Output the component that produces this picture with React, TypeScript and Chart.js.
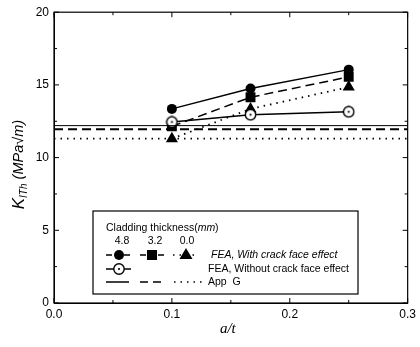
import React, { useEffect, useRef } from "react";
import { Chart, registerables } from "chart.js";
Chart.register(...registerables);

// ---- data ----
const aOverT = [0.1, 0.1667, 0.25];
const kWith48 = [13.35, 14.75, 16.05];
const kWith32 = [12.15, 14.15, 15.55];
const kWith00 = [11.3, 13.35, 14.85];
const kWithout = [12.45, 12.95, 13.15];
const appGx = [0, 0.3];
const appG48 = [12.2, 12.2];
const appG32 = [11.95, 11.95];
const appG00 = [11.3, 11.3];
const xTickValues = [0, 0.1, 0.2, 0.3];
const yTickValues = [0, 5, 10, 15, 20];
const cladLabels = ["4.8", "3.2", "0.0"];

const FONT = "'Liberation Sans', Arial, sans-serif";

function pts(xs: number[], ys: number[]) {
  return xs.map((x, i) => ({ x, y: ys[i] }));
}

function makeOpenCircle(): HTMLCanvasElement {
  const c = document.createElement("canvas");
  c.width = 13;
  c.height = 13;
  const g = c.getContext("2d")!;
  g.fillStyle = "#fff";
  g.strokeStyle = "#000";
  g.lineWidth = 1.4;
  g.beginPath();
  g.arc(6.5, 6.5, 5.2, 0, Math.PI * 2);
  g.fill();
  g.stroke();
  g.fillStyle = "#000";
  g.beginPath();
  g.arc(6.5, 6.5, 1.1, 0, Math.PI * 2);
  g.fill();
  return c;
}

function drawMarker(ctx: CanvasRenderingContext2D, kind: string, x: number, y: number) {
  ctx.save();
  ctx.fillStyle = "#000";
  ctx.strokeStyle = "#000";
  ctx.setLineDash([]);
  if (kind === "circle") {
    ctx.beginPath();
    ctx.arc(x, y, 5, 0, Math.PI * 2);
    ctx.fill();
  } else if (kind === "rect") {
    ctx.fillRect(x - 5, y - 5, 10, 10);
  } else if (kind === "triangle") {
    ctx.beginPath();
    ctx.moveTo(x, y - 6);
    ctx.lineTo(x + 6.5, y + 5);
    ctx.lineTo(x - 6.5, y + 5);
    ctx.closePath();
    ctx.fill();
  } else if (kind === "open") {
    ctx.fillStyle = "#fff";
    ctx.lineWidth = 1.4;
    ctx.beginPath();
    ctx.arc(x, y, 5.2, 0, Math.PI * 2);
    ctx.fill();
    ctx.stroke();
    ctx.fillStyle = "#000";
    ctx.beginPath();
    ctx.arc(x, y, 1.1, 0, Math.PI * 2);
    ctx.fill();
  }
  ctx.restore();
}

function seg(ctx: CanvasRenderingContext2D, x1: number, x2: number, y: number, dash: number[]) {
  ctx.save();
  ctx.strokeStyle = "#000";
  ctx.lineWidth = 1.5;
  ctx.setLineDash(dash);
  ctx.beginPath();
  ctx.moveTo(x1, y);
  ctx.lineTo(x2, y);
  ctx.stroke();
  ctx.restore();
}

const framePlugin = {
  id: "frameTicks",
  afterDraw(chart: any) {
    const ctx: CanvasRenderingContext2D = chart.ctx;
    const { left, right, top, bottom } = chart.chartArea;
    const xs = chart.scales.x;
    const ys = chart.scales.y;
    ctx.save();
    ctx.strokeStyle = "#000";
    ctx.lineWidth = 1.2;
    ctx.setLineDash([]);
    ctx.strokeRect(left, top, right - left, bottom - top);
    ctx.lineWidth = 1;
    // inward ticks
    for (let i = 0; i < xTickValues.length; i++) {
      const v = xTickValues[i];
      const px = xs.getPixelForValue(v);
      ctx.beginPath();
      ctx.moveTo(px, bottom); ctx.lineTo(px, bottom - 5);
      ctx.moveTo(px, top); ctx.lineTo(px, top + 5);
      ctx.stroke();
      if (i < xTickValues.length - 1) {
        const mx = xs.getPixelForValue((v + xTickValues[i + 1]) / 2);
        ctx.beginPath();
        ctx.moveTo(mx, bottom); ctx.lineTo(mx, bottom - 3);
        ctx.moveTo(mx, top); ctx.lineTo(mx, top + 3);
        ctx.stroke();
      }
    }
    for (let i = 0; i < yTickValues.length; i++) {
      const v = yTickValues[i];
      const py = ys.getPixelForValue(v);
      ctx.beginPath();
      ctx.moveTo(left, py); ctx.lineTo(left + 5, py);
      ctx.moveTo(right, py); ctx.lineTo(right - 5, py);
      ctx.stroke();
      if (i < yTickValues.length - 1) {
        const my = ys.getPixelForValue((v + yTickValues[i + 1]) / 2);
        ctx.beginPath();
        ctx.moveTo(left, my); ctx.lineTo(left + 3, my);
        ctx.moveTo(right, my); ctx.lineTo(right - 3, my);
        ctx.stroke();
      }
    }

    // y title
    ctx.save();
    ctx.translate(19, (top + bottom) / 2 + 7);
    ctx.rotate(-Math.PI / 2);
    ctx.fillStyle = "#000";
    ctx.textBaseline = "middle";
    const fK = "italic 17px " + FONT;
    const fSub = "italic 10px " + FONT;
    const fRest = "italic 14.5px " + FONT;
    const rest = " (MPa\u221Am)";
    ctx.font = fK; const wK = ctx.measureText("K").width;
    ctx.font = fSub; const wS = ctx.measureText("ITh").width;
    ctx.font = fRest; const wR = ctx.measureText(rest).width;
    let sx = -(wK + wS + wR) / 2;
    ctx.font = fK; ctx.fillText("K", sx, 0); sx += wK;
    ctx.font = fSub; ctx.fillText("ITh", sx, 5); sx += wS;
    ctx.font = fRest; ctx.fillText(rest, sx, 0);
    ctx.restore();

    // x title
    ctx.fillStyle = "#000";
    ctx.font = "italic 15px 'Liberation Serif', 'Times New Roman', serif";
    ctx.textAlign = "center";
    ctx.textBaseline = "middle";
    ctx.fillText("a/t", (left + right) / 2 - 3, 329);

    // legend box
    const bx = 93;
    const bx2 = 358;
    const by = 211;
    const by2 = 294;
    ctx.fillStyle = "#fff";
    ctx.fillRect(bx, by, bx2 - bx, by2 - by);
    ctx.lineWidth = 1.2;
    ctx.strokeRect(bx, by, bx2 - bx, by2 - by);

    const LF = 10.5;
    ctx.fillStyle = "#000";
    ctx.textAlign = "left";
    ctx.textBaseline = "middle";
    ctx.font = LF + "px " + FONT;
    const t1 = "Cladding thickness(";
    ctx.fillText(t1, bx + 13, by + 17);
    const w1 = ctx.measureText(t1).width;
    ctx.font = "italic " + LF + "px " + FONT;
    ctx.fillText("mm", bx + 13 + w1, by + 17);
    const w2 = ctx.measureText("mm").width;
    ctx.font = LF + "px " + FONT;
    ctx.fillText(")", bx + 13 + w1 + w2, by + 17);

    ctx.textAlign = "center";
    ctx.fillText(cladLabels[0], bx + 29, by + 30);
    ctx.fillText(cladLabels[1], bx + 62, by + 30);
    ctx.fillText(cladLabels[2], bx + 94, by + 30);

    const r1 = by + 44, r2 = by + 58, r3 = by + 71;
    seg(ctx, bx + 13, bx + 39, r1, [6, 3]);
    drawMarker(ctx, "circle", bx + 26, r1);
    seg(ctx, bx + 47, bx + 72, r1, [6, 3]);
    drawMarker(ctx, "rect", bx + 59, r1);
    seg(ctx, bx + 80, bx + 104, r1, [1.5, 5]);
    drawMarker(ctx, "triangle", bx + 93, r1 - 1);
    seg(ctx, bx + 13, bx + 38, r2, []);
    drawMarker(ctx, "open", bx + 26, r2);
    seg(ctx, bx + 13, bx + 36, r3, []);
    seg(ctx, bx + 47, bx + 69, r3, [8, 5]);
    seg(ctx, bx + 81, bx + 110, r3, [1.5, 5]);

    ctx.textAlign = "left";
    ctx.font = "italic " + LF + "px " + FONT;
    ctx.fillText("FEA, With crack face effect", bx + 118, r1);
    ctx.font = LF + "px " + FONT;
    ctx.fillText("FEA, Without crack face effect", bx + 115, r2);
    ctx.fillText("App  G", bx + 115, r3);
    ctx.restore();
  },
};

export default function App() {
  const ref = useRef<HTMLCanvasElement | null>(null);
  useEffect(() => {
    if (!ref.current) return;
    const open = makeOpenCircle();
    const base = { borderColor: "#000", backgroundColor: "#000", pointBackgroundColor: "#000", pointBorderColor: "#000", showLine: true, borderWidth: 1.5, pointBorderWidth: 0 };
    const chart = new Chart(ref.current, {
      type: "scatter",
      data: {
        datasets: [
          { ...base, label: "App G 4.8", data: pts(appGx, appG48), pointRadius: 0, borderWidth: 1 },
          { ...base, label: "App G 3.2", data: pts(appGx, appG32), pointRadius: 0, borderDash: [9, 5], borderWidth: 1.8 },
          { ...base, label: "App G 0.0", data: pts(appGx, appG00), pointRadius: 0, borderDash: [1.5, 5], borderWidth: 1.8 },
          { ...base, label: "Without 4.8", data: pts(aOverT, kWithout), pointStyle: open as any, pointRadius: 6 },
          { ...base, label: "With 0.0", data: pts(aOverT, kWith00), pointStyle: "triangle", pointRadius: 7, borderDash: [1.5, 5], borderWidth: 1.8 },
          { ...base, label: "With 3.2", data: pts(aOverT, kWith32), pointStyle: "rect", pointRadius: 7, borderDash: [9, 5] },
          { ...base, label: "With 4.8", data: pts(aOverT, kWith48), pointStyle: "circle", pointRadius: 5 },
        ],
      },
      options: {
        animation: false,
        responsive: true,
        maintainAspectRatio: false,
        layout: { padding: { top: 11, right: 7, left: 0, bottom: 0 } },
        plugins: { legend: { display: false }, tooltip: { enabled: false } },
        scales: {
          x: {
            type: "linear",
            min: 0,
            max: 0.3,
            afterFit: (s: any) => { s.height = 44; },
            afterBuildTicks: (s: any) => { s.ticks = xTickValues.map((v) => ({ value: v })); },
            grid: { display: false, drawTicks: false },
            border: { display: true, color: "#000" },
            ticks: {
              color: "#000",
              padding: 4,
              font: { family: FONT, size: 12 },
              callback: (v: any) => Number(v).toFixed(1),
            },
          },
          y: {
            type: "linear",
            min: 0,
            max: 20,
            afterFit: (s: any) => { s.width = 54; },
            afterBuildTicks: (s: any) => { s.ticks = yTickValues.map((v) => ({ value: v })); },
            grid: { display: false, drawTicks: false },
            border: { display: true, color: "#000" },
            ticks: {
              color: "#000",
              padding: 5,
              font: { family: FONT, size: 12 },
              callback: (v: any) => String(v),
            },
          },
        },
      },
      plugins: [framePlugin],
    });
    return () => chart.destroy();
  }, []);
  return (
    <div style={{ position: "fixed", left: 0, top: 0, width: 420, height: 347, background: "#fff" }}>
      <canvas ref={ref} />
    </div>
  );
}
